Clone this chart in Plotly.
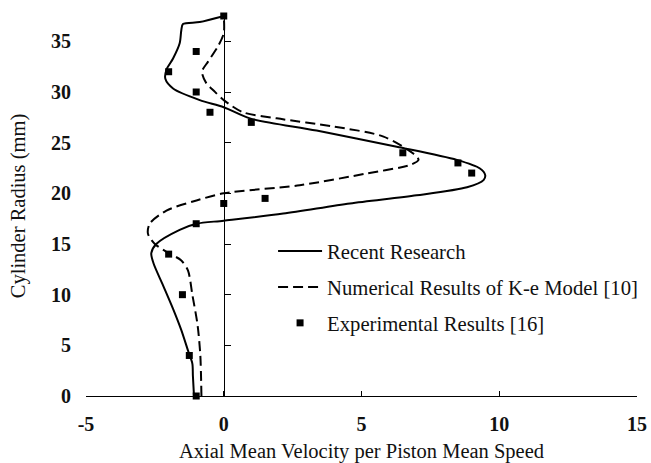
import plotly.graph_objects as go

# Recent Research (solid)
recent_x = [-1.08, -1.12, -1.14, -1.3, -1.54, -1.84, -2.2, -2.55, -2.63, -2.45, -1.6, -0.99, 0.0, 2.16, 4.58, 7.0, 8.83, 9.43, 9.49, 9.3, 8.46, 6.28, 3.37, 0.95, 0.0, -0.87, -1.84, -2.12, -2.08, -1.84, -1.6, -1.54, -1.48, -0.87, 0.0]
recent_y = [0.0, 2.0, 3.2, 4.5, 6.5, 8.6, 10.9, 13.1, 14.1, 15.0, 16.4, 17.0, 17.3, 18.0, 19.0, 19.8, 20.6, 21.3, 21.8, 22.45, 23.3, 24.6, 26.2, 27.4, 28.5, 29.2, 30.35, 31.3, 32.2, 33.3, 34.8, 36.1, 36.7, 36.9, 37.5]

# Numerical Results of K-e Model [10] (dashed)
ke_x = [-0.81, -0.85, -0.95, -1.14, -1.3, -1.55, -2.0, -2.5, -2.75, -2.69, -2.08, -0.99, 0.0, 2.76, 5.19, 6.76, 7.07, 6.89, 5.8, 3.97, 1.92, 0.7, 0.0, -0.39, -0.63, -0.79, -0.57, -0.21, 0.0, 0.0]
ke_y = [0.0, 4.0, 7.0, 10.0, 12.4, 13.4, 14.1, 15.0, 16.0, 17.0, 18.3, 19.3, 20.0, 20.8, 21.96, 22.8, 23.3, 23.9, 25.6, 26.6, 27.4, 28.0, 29.2, 30.2, 30.85, 32.0, 33.0, 34.5, 35.8, 37.5]

# Experimental Results [16] (markers)
exp_x = [0.0, -1.0, -2.0, -1.0, -0.5, 1.0, 6.5, 8.5, 9.0, 1.5, 0.0, -1.0, -2.0, -1.5, -1.25, -1.0]
exp_y = [37.5, 34.0, 32.0, 30.0, 28.0, 27.0, 24.0, 23.0, 22.0, 19.5, 19.0, 17.0, 14.0, 10.0, 4.0, 0.0]

x_ticks = [-5, 0, 5, 10, 15]
y_ticks = [0, 5, 10, 15, 20, 25, 30, 35]

FONT = "Liberation Serif, Times New Roman, serif"

fig = go.Figure()
fig.add_trace(go.Scatter(x=recent_x, y=recent_y, mode="lines", name="Recent Research",
                         line=dict(color="black", width=2, shape="spline", smoothing=0.8),
                         legendgroup="a"))
fig.add_trace(go.Scatter(x=ke_x, y=ke_y, mode="lines", name="Numerical Results of K-e Model [10]",
                         line=dict(color="black", width=2, dash="10px,5px", shape="spline", smoothing=0.8),
                         legendgroup="b"))
fig.add_trace(go.Scatter(x=exp_x, y=exp_y, mode="markers", name="Experimental Results [16]",
                         marker=dict(symbol="square", size=7, color="black"),
                         cliponaxis=False, legendgroup="c"))
# helper axis at x=0 (vertical axis crossing)
fig.add_trace(go.Scatter(x=[None], y=[None], yaxis="y2", showlegend=False, hoverinfo="skip"))

fig.update_layout(
    width=651, height=463,
    margin=dict(l=86, r=14, t=16, b=67, autoexpand=False),
    paper_bgcolor="white", plot_bgcolor="white",
    font=dict(family=FONT, color="#111111", size=20),
    showlegend=True,
    legend=dict(x=0.3395, y=0.434, xanchor="left", yanchor="top", bgcolor="rgba(0,0,0,0)",
                font=dict(family=FONT, size=20.7, color="#111111"), tracegroupgap=6, itemwidth=44),
    xaxis=dict(range=[-5, 15], tickvals=x_ticks, ticktext=[str(v) for v in x_ticks],
               showgrid=False, zeroline=False, showline=True, linecolor="black", linewidth=1,
               ticks="inside", ticklen=5, tickcolor="black", mirror=False, automargin=False,
               tickfont=dict(family=FONT, size=20, weight="bold"), ticklabelstandoff=10,
               title=dict(text="Axial Mean Velocity per Piston Mean Speed",
                          font=dict(family=FONT, size=20.5), standoff=11)),
    yaxis=dict(range=[0, 37.5], tickvals=y_ticks, ticktext=[str(v) for v in y_ticks],
               showgrid=False, zeroline=False, showline=False, ticks="", automargin=False,
               tickfont=dict(family=FONT, size=20, weight="bold"), ticklabelstandoff=14,
               title=dict(text="Cylinder Radius (mm)", font=dict(family=FONT, size=20.5), standoff=19)),
    yaxis2=dict(range=[0, 37.5], overlaying="y", anchor="free", position=0.25, side="right",
                tickvals=y_ticks, showticklabels=False, showgrid=False, zeroline=False,
                showline=True, linecolor="black", linewidth=1, ticks="outside", ticklen=6,
                tickcolor="black", automargin=False),
)

fig.write_html("out.html")
